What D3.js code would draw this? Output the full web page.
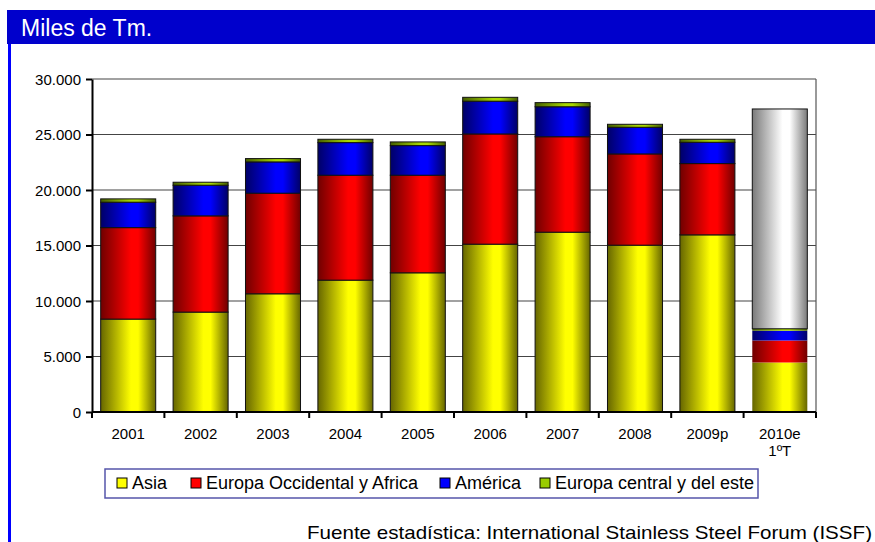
<!DOCTYPE html>
<html>
<head>
<meta charset="utf-8">
<script src="https://cdn.jsdelivr.net/npm/d3@7"></script>
<style>
  body { margin: 0; background: #ffffff; }
  svg { display: block; font-family: "Liberation Sans", Arial, sans-serif; }
</style>
</head>
<body>
<svg></svg>
<script>
// datos (miles de toneladas)
var categorias = ["2001", "2002", "2003", "2004", "2005", "2006", "2007", "2008", "2009p", "2010e"];
var etiquetasX = ["2001", "2002", "2003", "2004", "2005", "2006", "2007", "2008", "2009p", "2010e|1ºT"];
var asia          = [8370, 9000, 10650, 11880, 12540, 15120, 16200, 15030, 15960, 4460];
var europaOcc     = [8240, 8670, 9060, 9450, 8790, 9930, 8600, 8220, 6420, 1980];
var america       = [2290, 2760, 2820, 2940, 2670, 2950, 2700, 2400, 1920, 880];
var europaCentral = [300, 270, 300, 300, 330, 350, 370, 270, 270, 180];
var resto2010     = [0, 0, 0, 0, 0, 0, 0, 0, 0, 19800];
var ticksY = [0, 5000, 10000, 15000, 20000, 25000, 30000];
var series = ["Asia", "Europa Occidental y Africa", "América", "Europa central y del este"];

var width = 875, height = 542;
var mIzq = 92, mDer = 816, mSup = 79, mInf = 412;

var svg = d3.select("svg").attr("width", width).attr("height", height);

// colores: [oscuro, claro]
var colores = {
  "Asia": ["#666600", "#ffff00"],
  "Europa Occidental y Africa": ["#700000", "#ff0000"],
  "América": ["#000066", "#0000ff"],
  "Europa central y del este": ["#445e00", "#a8d800"],
  "resto": ["#7a7a7a", "#ffffff"]
};
var planos = {
  "Asia": "#ffff00",
  "Europa Occidental y Africa": "#ff0000",
  "América": "#0000ff",
  "Europa central y del este": "#99cc00"
};

var defs = svg.append("defs");
Object.keys(colores).forEach(function(k, i) {
  var lg = defs.append("linearGradient").attr("id", "g" + i)
    .attr("x1", "0%").attr("x2", "100%").attr("y1", "0%").attr("y2", "0%");
  lg.append("stop").attr("offset", "0%").attr("stop-color", colores[k][0]);
  lg.append("stop").attr("offset", "55%").attr("stop-color", colores[k][1]);
  lg.append("stop").attr("offset", "68%").attr("stop-color", colores[k][1]);
  lg.append("stop").attr("offset", "100%").attr("stop-color", colores[k][0]);
  colores[k].id = "url(#g" + i + ")";
});

// marco
svg.append("rect").attr("x", 7).attr("y", 10).attr("width", 868).attr("height", 34).attr("fill", "#0000cc");
svg.append("rect").attr("x", 8).attr("y", 44).attr("width", 3).attr("height", 498).attr("fill", "#0000ff");
svg.append("text").attr("x", 21).attr("y", 36).attr("fill", "#ffffff")
  .attr("font-size", 23).text("Miles de Tm.");

var x = d3.scaleBand().domain(categorias).range([mIzq, mDer])
  .paddingInner(0.24).paddingOuter(0.12);
var y = d3.scaleLinear().domain([0, 30000]).range([mInf, mSup]);

// rejilla
svg.append("g").selectAll("line").data(ticksY.filter(function(d) { return d > 0; }))
  .enter().append("line")
  .attr("x1", mIzq).attr("x2", mDer)
  .attr("y1", function(d) { return y(d); }).attr("y2", function(d) { return y(d); })
  .attr("stroke", "#444").attr("stroke-width", 1.2);
svg.append("line").attr("x1", mDer).attr("x2", mDer).attr("y1", mSup).attr("y2", mInf)
  .attr("stroke", "#555").attr("stroke-width", 1.2);

// tabla para el apilado
var tabla = categorias.map(function(c, i) {
  return {
    cat: c,
    "Asia": asia[i],
    "Europa Occidental y Africa": europaOcc[i],
    "América": america[i],
    "Europa central y del este": europaCentral[i],
    "resto": resto2010[i]
  };
});
var claves = series.concat(["resto"]);
var apilado = d3.stack().keys(claves)(tabla);

var grupos = svg.append("g").selectAll("g").data(apilado).enter().append("g");
grupos.selectAll("rect")
  .data(function(s) { return s.map(function(d) { d.key = s.key; return d; }).filter(function(d) { return d[1] - d[0] > 0; }); })
  .enter().append("rect")
  .attr("x", function(d) { return x(d.data.cat); })
  .attr("width", x.bandwidth())
  .attr("y", function(d) { return y(d[1]); })
  .attr("height", function(d) { return y(d[0]) - y(d[1]); })
  .attr("fill", function(d) { return colores[d.key].id; })
  .attr("stroke", function(d) { return (d.data.cat === "2010e" && d.key !== "resto") ? "none" : "#111"; })
  .attr("stroke-width", 1);

// ejes
var fmt = d3.formatLocale({ decimal: ",", thousands: ".", grouping: [3], currency: ["", ""] }).format(",");
var ejeY = svg.append("g").attr("transform", "translate(" + mIzq + ",0)")
  .call(d3.axisLeft(y).tickValues(ticksY).tickFormat(fmt).tickSize(6).tickSizeOuter(0));
ejeY.select(".domain").attr("stroke", "#000").attr("stroke-width", 2);
ejeY.selectAll(".tick line").attr("stroke", "#000").attr("stroke-width", 2);
ejeY.selectAll("text").attr("font-size", 15).attr("fill", "#000")
  .attr("font-family", "Liberation Sans, Arial, sans-serif").attr("x", -11).attr("dy", "0.35em");

var bordes = d3.range(categorias.length + 1).map(function(i) { return mIzq + i * x.step(); });
svg.append("line").attr("x1", mIzq).attr("x2", mDer).attr("y1", mInf).attr("y2", mInf)
  .attr("stroke", "#000").attr("stroke-width", 2);
svg.append("g").selectAll("line").data(bordes).enter().append("line")
  .attr("x1", function(d) { return d; }).attr("x2", function(d) { return d; })
  .attr("y1", mInf).attr("y2", mInf + 6)
  .attr("stroke", "#000").attr("stroke-width", 2);

var etiq = svg.append("g").selectAll("text").data(categorias).enter().append("text")
  .attr("x", function(d) { return x(d) + x.bandwidth() / 2; })
  .attr("y", 439)
  .attr("text-anchor", "middle").attr("font-size", 15).attr("fill", "#000");
etiq.each(function(d, i) {
  var partes = etiquetasX[i].split("|");
  var t = d3.select(this);
  partes.forEach(function(p, j) {
    t.append("tspan").attr("x", x(d) + x.bandwidth() / 2).attr("dy", j === 0 ? 0 : 17).text(p);
  });
});

// leyenda
svg.append("rect").attr("x", 105).attr("y", 469).attr("width", 653).attr("height", 29)
  .attr("fill", "#fff").attr("stroke", "#5555aa").attr("stroke-width", 1.5);
var posLeyenda = [117, 191, 440, 540];
var leyenda = svg.append("g").selectAll("g").data(series).enter().append("g")
  .attr("transform", function(d, i) { return "translate(" + posLeyenda[i] + ",478)"; });
leyenda.append("rect").attr("width", 10).attr("height", 10)
  .attr("fill", function(d) { return planos[d]; }).attr("stroke", "#000").attr("stroke-width", 1);
leyenda.append("text").attr("x", 15).attr("y", 11).attr("font-size", 18).attr("fill", "#000")
  .text(function(d) { return d; });

// fuente
svg.append("text").attr("x", 872).attr("y", 539).attr("text-anchor", "end")
  .attr("font-size", 19).attr("fill", "#000")
  .attr("textLength", 565).attr("lengthAdjust", "spacingAndGlyphs")
  .text("Fuente estadística: International Stainless Steel Forum (ISSF)");
</script>
</body>
</html>
